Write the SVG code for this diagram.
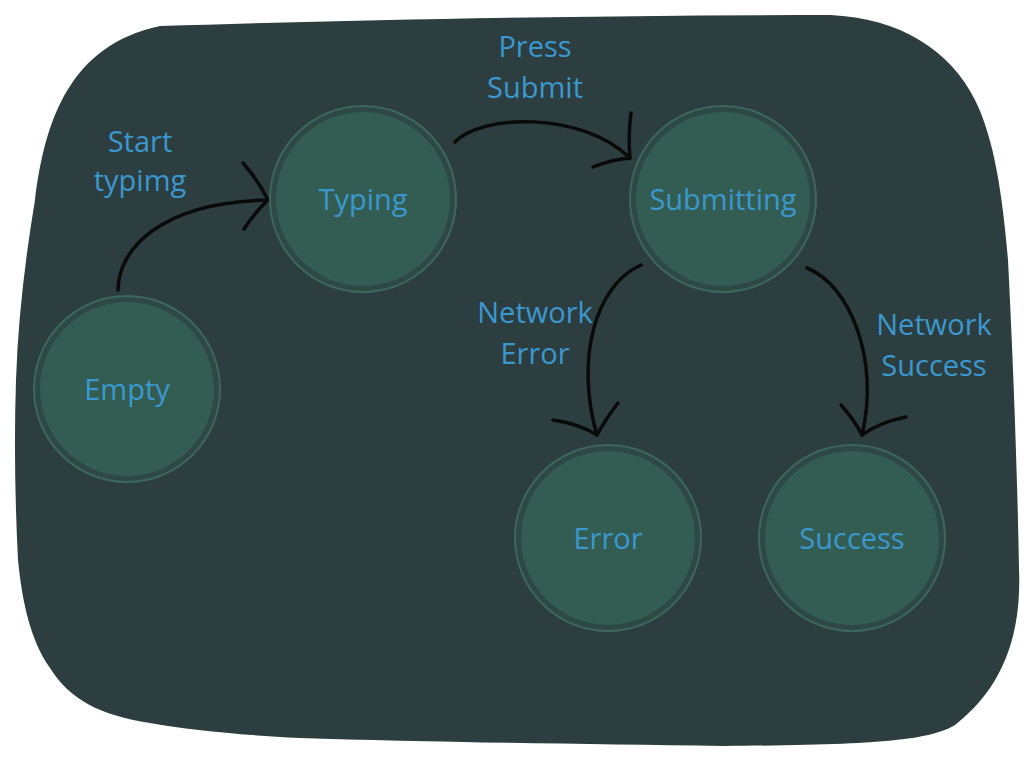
<svg xmlns="http://www.w3.org/2000/svg" width="1024" height="768" viewBox="0 0 1024 768">
<style>
.bg{fill:#2d3e40}
.ring{fill:#2e4945;stroke:#3c675c;stroke-width:2}
.core{fill:#335d52}
text{font-family:"Open Sans","Liberation Sans",sans-serif;font-size:29px;fill:#3b98cf;text-anchor:middle}
.c{fill:none;stroke:#0a0a0a;stroke-width:3.5;stroke-linecap:round;stroke-linejoin:round}
</style>
<rect width="1024" height="768" fill="#ffffff"/>
<path class="bg" d="M160,26 C350,20 600,15 830,15 C900,18 950,50 975,100 C995,140 1003,200 1008,260 C1013,360 1017,460 1019,568 C1022,640 1000,690 955,725 C930,740 880,745 724,746 C580,744 420,742 300,738 C240,735 190,730 150,723 C100,715 70,700 50,668 C30,640 22,600 18,560 C15,500 14,440 16,380 C18,320 25,260 35,200 C45,120 70,45 160,26 Z"/>
<g id="connectors">
<path class="c" d="M118,290 C118,250 160,202 268,200"/>
<path class="c" d="M243,163 Q258,180 268,200 M244,229 Q255,212 268,200"/>
<path class="c" d="M455,142 C480,115 580,110 630,158"/>
<path class="c" d="M631,113 Q628,135 630,158 M593,167 Q610,160 630,158"/>
<path class="c" d="M641,265 C595,285 575,360 597,435"/>
<path class="c" d="M553,420 Q580,424 597,435 M618,403 Q605,420 597,435"/>
<path class="c" d="M807,268 C850,285 880,360 862,435"/>
<path class="c" d="M841,405 Q853,418 862,435 M906,417 Q880,422 862,435"/>
</g>
<g id="labels">
<text x="140" y="152">Start</text>
<text x="140" y="191">typimg</text>
<text x="535" y="57">Press</text>
<text x="535" y="98">Submit</text>
<text x="535" y="323">Network</text>
<text x="535" y="364">Error</text>
<text x="934" y="335">Network</text>
<text x="934" y="376">Success</text>
</g>
<g id="node-empty">
<circle class="ring" cx="127" cy="389" r="93"/>
<circle class="core" cx="127" cy="389" r="87"/>
<text x="127" y="400">Empty</text>
</g>
<g id="node-typing">
<circle class="ring" cx="363" cy="199" r="93"/>
<circle class="core" cx="363" cy="199" r="87"/>
<text x="363" y="210">Typing</text>
</g>
<g id="node-submitting">
<circle class="ring" cx="723" cy="199" r="93"/>
<circle class="core" cx="723" cy="199" r="87"/>
<text x="723" y="210">Submitting</text>
</g>
<g id="node-error">
<circle class="ring" cx="608" cy="538" r="93"/>
<circle class="core" cx="608" cy="538" r="87"/>
<text x="608" y="549">Error</text>
</g>
<g id="node-success">
<circle class="ring" cx="852" cy="538" r="93"/>
<circle class="core" cx="852" cy="538" r="87"/>
<text x="852" y="549">Success</text>
</g>
</svg>
